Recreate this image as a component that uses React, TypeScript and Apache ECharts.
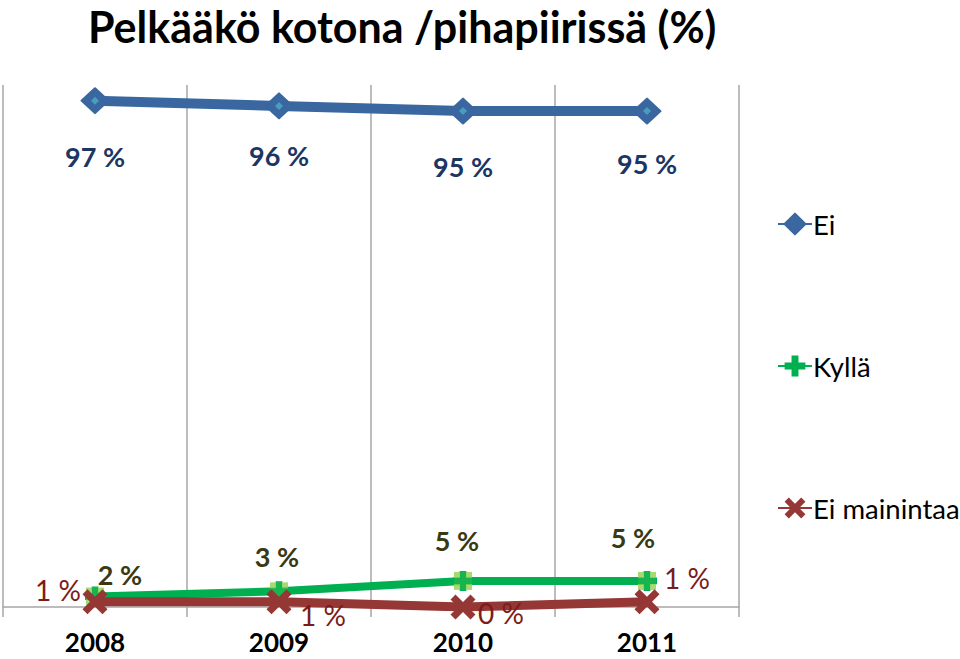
import React, { useEffect, useRef } from "react";
import * as echarts from "echarts";

const categories = ["2008", "2009", "2010", "2011"];
const eiValues = [97, 96, 95, 95];
const kyllaValues = [2, 3, 5, 5];
const eiMainintaaValues = [1, 1, 0, 1];

const eiOffsets = [[0, 56], [0, 50], [0, 55], [0, 52]];
const kyllaOffsets = [[25, -22], [-2, -35], [-6, -40], [-14, -43]];
const emOffsets = [[-37, -12], [44, 13], [38, 6], [40, -24]];

const FONT = "Lato, 'Open Sans', sans-serif";
const PLUS = "path://M6,0H12V6H18V12H12V18H6V12H0V6H6Z";
const XMARK =
  "path://M0,4 L4,0 L10,6 L16,0 L20,4 L14,10 L20,16 L16,20 L10,14 L4,20 L0,16 L6,10Z";

function withLabels(vals: number[], offs: number[][]) {
  return vals.map((v, i) => ({ value: v, label: { offset: offs[i] } }));
}

export default function App() {
  const ref = useRef<HTMLDivElement>(null);
  useEffect(() => {
    const chart = echarts.init(ref.current!, null, { renderer: "svg" });
    chart.setOption({
      animation: false,
      backgroundColor: "#ffffff",
      title: {
        text: "Pelkääkö kotona /pihapiirissä (%)",
        left: 88,
        top: 0,
        padding: 0,
        textStyle: { fontFamily: FONT, fontWeight: "bold", fontSize: 43, lineHeight: 52, color: "#000" },
      },
      legend: {
        data: ["Ei", "Kyllä", "Ei mainintaa"],
        orient: "vertical",
        left: 772,
        top: 205,
        itemWidth: 34,
        itemHeight: 26,
        itemGap: 114,
        textStyle: { fontFamily: FONT, fontSize: 27.5, color: "#000", lineHeight: 26, padding: [0, 0, 0, -4] },
      },
      grid: { left: 3, right: 221, top: 85, bottom: 52, containLabel: false },
      xAxis: {
        type: "category",
        data: categories,
        boundaryGap: true,
        axisLine: { show: true, lineStyle: { color: "#A6A6A6", width: 1.5 } },
        axisTick: { show: true, length: 10, interval: 0, lineStyle: { color: "#A6A6A6", width: 1.5 } },
        splitLine: { show: true, interval: 0, lineStyle: { color: "#A6A6A6", width: 1.5 } },
        axisLabel: {
          fontFamily: FONT,
          fontWeight: "bold",
          fontSize: 26,
          lineHeight: 26,
          color: "#000",
          margin: 22,
          interval: 0,
        },
      },
      yAxis: {
        type: "value",
        min: 0,
        max: 100,
        show: false,
        splitLine: { show: false },
      },
      series: [
        {
          name: "Ei",
          type: "line",
          data: withLabels(eiValues, eiOffsets),
          symbol: "diamond",
          symbolSize: [27, 25],
          lineStyle: { color: "#3A67A0", width: 10 },
          itemStyle: { color: "#3A67A0", borderColor: "#3A67A0", borderWidth: 2, borderJoin: "round" },
          label: {
            show: true,
            position: "inside",
            formatter: "{c} %",
            fontFamily: FONT,
            fontWeight: "bold",
            fontSize: 27,
            color: "#1C3664",
          },
          z: 2,
        },
        {
          name: "EiDecor",
          type: "scatter",
          data: eiValues,
          symbol: "diamond",
          symbolSize: 8,
          itemStyle: { color: "#4BACC6" },
          silent: true,
          z: 2,
        },
        {
          name: "Kyllä",
          type: "line",
          data: withLabels(kyllaValues, kyllaOffsets),
          symbol: PLUS,
          symbolSize: 20,
          lineStyle: { color: "#00B050", width: 8 },
          itemStyle: { color: "#00B050" },
          label: {
            show: true,
            position: "inside",
            formatter: "{c} %",
            fontFamily: FONT,
            fontWeight: "bold",
            fontSize: 27,
            color: "#3A3A12",
          },
          z: 2,
        },
        {
          name: "KyllaRect",
          type: "scatter",
          data: kyllaValues,
          symbol: "rect",
          symbolSize: 18,
          itemStyle: { color: "#92D050" },
          silent: true,
          z: 2,
        },
        {
          name: "KyllaPlus",
          type: "scatter",
          data: kyllaValues,
          symbol: PLUS,
          symbolSize: 18,
          itemStyle: { color: "#00B050" },
          silent: true,
          z: 2,
        },
        {
          name: "Ei mainintaa",
          type: "line",
          data: withLabels(eiMainintaaValues, emOffsets),
          symbol: XMARK,
          symbolSize: 25,
          lineStyle: { color: "#953735", width: 9 },
          itemStyle: { color: "#953735" },
          label: {
            show: true,
            position: "inside",
            formatter: "{c} %",
            fontFamily: FONT,
            fontSize: 28,
            color: "#7B1C1C",
          },
          z: 3,
        },
      ],
    });
    return () => chart.dispose();
  }, []);
  return <div ref={ref} style={{ width: 960, height: 659, position: "absolute", left: 0, top: 0 }} />;
}
